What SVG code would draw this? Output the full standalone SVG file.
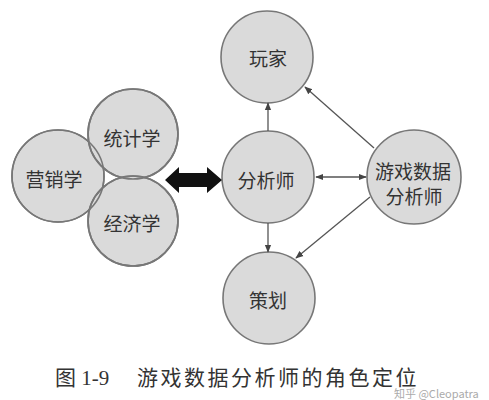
<svg xmlns="http://www.w3.org/2000/svg" width="489" height="400" viewBox="0 0 489 400">
<defs>
<style>
.n{fill:#dadada;stroke:#777;stroke-width:1.6}
.o{fill:none;stroke:#777;stroke-width:1.6}
.t{font-family:"Noto Sans CJK SC","Noto Sans",sans-serif;font-size:19px;fill:#333;text-anchor:middle;dominant-baseline:central}
.c{stroke:#555;stroke-width:1.3;fill:none}
.cap{font-family:"Liberation Serif","Noto Sans CJK SC",serif;font-size:21px;fill:#333}
</style>
<marker id="ah" viewBox="0 0 10 10" refX="9" refY="5" markerWidth="8" markerHeight="8" markerUnits="userSpaceOnUse" orient="auto-start-reverse">
<path d="M0,1 L10,5 L0,9 z" fill="#444"/>
</marker>
</defs>
<rect width="489" height="400" fill="#fff"/>
<g id="node-marketing"><circle class="n" cx="58" cy="176" r="46"/><text class="t" x="54" y="178">营销学</text></g>
<g id="node-statistics"><circle class="n" cx="133" cy="134" r="45"/><text class="t" x="132" y="137">统计学</text></g>
<g id="node-economics"><circle class="n" cx="133" cy="221" r="45"/><text class="t" x="132" y="222">经济学</text></g>
<g id="outlines"><circle class="o" cx="58" cy="176" r="46"/><circle class="o" cx="133" cy="134" r="45"/><circle class="o" cx="133" cy="221" r="45"/></g>
<g id="node-player"><circle class="n" cx="267" cy="57" r="46"/><text class="t" x="268" y="57">玩家</text></g>
<g id="node-analyst"><circle class="n" cx="268" cy="177" r="46"/><text class="t" x="266" y="179">分析师</text></g>
<g id="node-planning"><circle class="n" cx="269" cy="298" r="46"/><text class="t" x="268" y="299">策划</text></g>
<g id="node-game-analyst"><circle class="n" cx="414" cy="177" r="47"/><text class="t" x="413" y="170">游戏数据</text><text class="t" x="414" y="195">分析师</text></g>
<g id="connectors">
<polygon points="165,180 179,167 179,173 207,173 207,167 222,180 207,193 207,187 179,187 179,193" fill="#111"/>
<line class="c" x1="268" y1="131" x2="268" y2="103" marker-end="url(#ah)"/>
<line class="c" x1="268" y1="223" x2="268" y2="252" marker-end="url(#ah)"/>
<line class="c" x1="316" y1="177" x2="366" y2="177" marker-start="url(#ah)" marker-end="url(#ah)"/>
<line class="c" x1="374" y1="148" x2="305" y2="87" marker-end="url(#ah)"/>
<line class="c" x1="370" y1="197" x2="296" y2="258" marker-end="url(#ah)"/>
</g>
<text class="cap" x="55" y="385">图 1-9</text>
<text class="cap" x="137" y="385" letter-spacing="2.5" font-family="Noto Sans CJK SC, sans-serif">游戏数据分析师的角色定位</text>
<text x="394" y="398" font-family="Noto Sans CJK SC, sans-serif" font-size="11" fill="#aaa">知乎 @Cleopatra</text>
</svg>
